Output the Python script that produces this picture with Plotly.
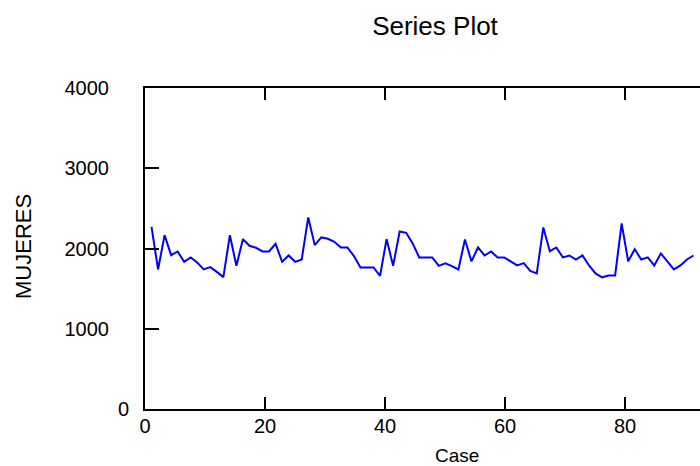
import plotly.graph_objects as go

# Series values (MUJERES per case)
cases = list(range(1, 85))
mujeres = [
    2270, 1739, 2166, 1917, 1963, 1834, 1889, 1826, 1739, 1768,
    1709, 1643, 2166, 1784, 2117, 2034, 2009, 1963, 1963, 2059,
    1834, 1913, 1834, 1863, 2387, 2042, 2138, 2121, 2083, 2013,
    2013, 1905, 1764, 1764, 1764, 1660, 2117, 1784, 2212, 2195,
    2062, 1889, 1889, 1889, 1784, 1814, 1780, 1739, 2113, 1839,
    2013, 1913, 1963, 1889, 1889, 1839, 1789, 1818, 1720, 1690,
    2262, 1967, 2013, 1889, 1913, 1863, 1913, 1789, 1689, 1641,
    1664, 1664, 2312, 1841, 1990, 1863, 1889, 1789, 1938, 1839,
    1739, 1789, 1863, 1913,
]
x_ticks = [0, 20, 40, 60, 80]
y_ticks = [0, 1000, 2000, 3000, 4000]
# the origin label on the value axis sits next to the corner, drawn separately
y_tick_labels = ["", "1000", "2000", "3000", "4000"]

FONT = "Liberation Sans, Arial, sans-serif"

fig = go.Figure()
# empty trace so the "Case" tick axis gets its own subplot frame
fig.add_trace(go.Scatter(x=[], y=[], xaxis="x", yaxis="y",
                         hoverinfo="skip", showlegend=False))
fig.add_trace(go.Scatter(
    x=cases, y=mujeres, mode="lines",
    line=dict(color="#0000FF", width=2),
    xaxis="x2", yaxis="y", showlegend=False,
))

fig.update_layout(
    width=700, height=466,
    margin=dict(l=145, r=0, t=88, b=57),
    paper_bgcolor="white", plot_bgcolor="white",
    font=dict(family=FONT, color="black"),
    title=dict(text="Series Plot", x=435 / 700, xref="container", xanchor="center",
               y=1 - 26 / 466, yref="container", yanchor="middle",
               font=dict(size=26, family=FONT, color="black")),
    xaxis=dict(
        range=[0, 92.5], tickvals=x_ticks, ticktext=[str(v) for v in x_ticks],
        ticks="inside", ticklen=12, tickwidth=2, tickcolor="black",
        showline=True, linewidth=2, linecolor="black", mirror="ticks",
        showgrid=False, zeroline=False, automargin=False,
        tickfont=dict(size=20, family=FONT, color="black"),
        ticklabelstandoff=-2,
    ),
    xaxis2=dict(range=[0, 85], overlaying="x", anchor="y", visible=False),
    yaxis=dict(
        range=[0, 4000], tickvals=y_ticks, ticktext=y_tick_labels,
        ticks="inside", ticklen=14, tickwidth=2, tickcolor="black",
        showline=True, linewidth=2, linecolor="black", mirror=False,
        showgrid=False, zeroline=False, automargin=False,
        tickfont=dict(size=20, family=FONT, color="black"),
        ticklabelstandoff=30,
    ),
    annotations=[
        dict(text="0", x=-(145 - 131) / 555, xref="paper", xanchor="right",
             y=0, yref="y", yanchor="middle", yshift=0,
             showarrow=False, font=dict(size=20, family=FONT, color="black")),
        dict(text="Case", x=(457 - 145) / 555, xref="paper",
             y=-(456 - 409) / 321, yref="paper", yanchor="middle",
             showarrow=False, font=dict(size=19, family=FONT, color="black")),
        dict(text="MUJERES", x=-(145 - 23) / 555, xref="paper", xanchor="center",
             y=(409 - 247) / 321, yref="paper", yanchor="middle",
             textangle=-90, showarrow=False,
             font=dict(size=22, family=FONT, color="black")),
    ],
)

fig.write_html("out.html")
